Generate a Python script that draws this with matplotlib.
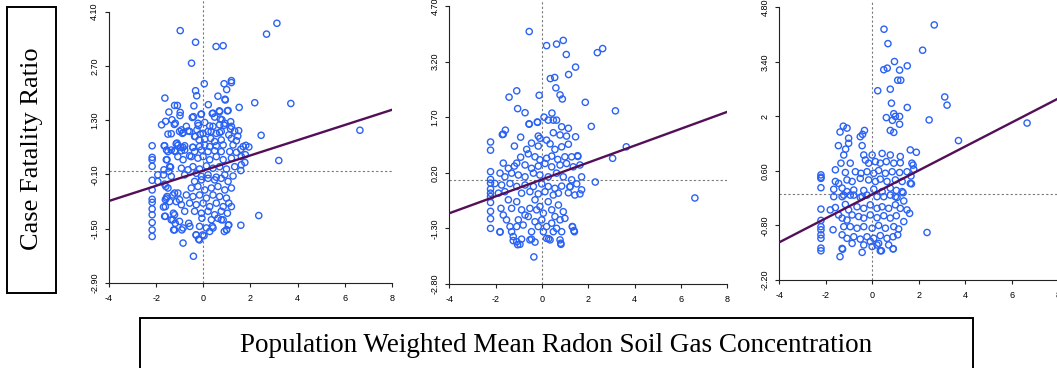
import numpy as np
import matplotlib.pyplot as plt
from matplotlib.patches import Rectangle

# puntos leídos a ojo de la figura (x, y) por panel
panel1_pts = [
    (-0.98, 3.61), (3.12, 3.80), (2.68, 3.52), (-0.33, 3.31), (0.54, 3.20), (0.84, 3.22), (-0.50, 2.77),
    (0.04, 2.24), (1.19, 2.32), (1.19, 2.27), (0.88, 2.24), (0.99, 2.09), (-0.33, 2.06), (-0.28, 1.93),
    (0.62, 1.92), (0.92, 1.84), (-1.63, 1.87), (2.18, 1.75), (3.71, 1.73), (0.21, 1.70), (-1.22, 1.68),
    (-1.10, 1.68), (-0.40, 1.67), (1.52, 1.63), (-1.46, 1.51), (-0.98, 1.50), (-0.99, 1.42), (-0.10, 1.45),
    (0.68, 1.54), (1.02, 1.54), (0.38, 1.47), (-0.42, 1.39), (0.72, 1.33), (1.16, 1.26), (-1.77, 1.18),
    (-1.60, 1.27), (-1.23, 1.19), (-1.33, 1.31), (0.06, 1.24), (-0.21, 1.16), (0.27, 1.15), (0.88, 1.17),
    (-0.65, 1.02), (-0.93, 1.05), (-0.85, 0.98), (-1.50, 0.94), (-1.36, 0.95), (-0.34, 0.88), (-0.13, 0.94),
    (0.33, 1.01), (0.69, 0.98), (1.15, 1.08), (2.45, 0.91), (6.64, 1.04), (1.46, 0.89), (1.33, 1.02),
    (-2.17, 0.64), (-1.66, 0.64), (-1.12, 0.71), (-1.08, 0.65), (-0.96, 0.60), (-0.86, 0.60), (-0.45, 0.60),
    (-1.56, 0.53), (-1.22, 0.51), (1.80, 0.65), (1.93, 0.61), (-2.17, 0.34), (-2.17, 0.28), (-2.17, 0.11),
    (-1.54, 0.28), (-1.39, 0.09), (-0.58, 0.38), (3.20, 0.26), (1.61, 0.36), (1.76, 0.21), (1.59, 0.0),
    (-2.17, -0.25), (-1.69, -0.11), (-1.46, -0.02), (-2.17, -0.50), (-2.17, -0.74), (-2.17, -0.82),
    (-2.17, -0.99), (-2.17, -1.14), (-2.17, -1.34), (-2.17, -1.53), (-2.17, -1.70), (-1.64, -0.35),
    (-1.59, -0.41), (-1.54, -0.67), (-1.61, -0.75), (-1.69, -0.94), (-1.64, -1.18), (-1.22, -0.58),
    (-1.15, -0.80), (-1.27, -1.10), (-1.36, -1.27), (-1.19, -1.36), (-1.26, -1.53), (-0.91, -1.53),
    (-0.86, -1.87), (-0.42, -2.21), (-0.31, -1.66), (-0.20, -1.77), (-0.57, -1.44), (-0.03, -1.66),
    (0.38, -1.44), (0.27, -1.57), (0.99, -1.53), (1.06, -1.41), (1.59, -1.41), (2.35, -1.16), (0.89, -1.57),
    (0.76, -1.27), (1.19, -0.93),
    (0.93, 1.82), (-0.47, 1.37), (-0.08, 1.46), (0.41, 1.48), (0.69, 1.52), (1.05, 1.55), (0.48, 1.38),
    (0.79, 1.31), (-1.19, 1.22), (-0.72, 1.14), (-0.23, 1.22), (0.41, 1.14), (0.69, 1.18), (0.91, 1.22),
    (1.19, 1.14), (-0.27, 1.05), (-1.01, 1.01), (-0.89, 0.96), (-0.58, 1.01), (-0.37, 0.88), (-0.01, 0.96),
    (0.20, 1.01), (0.55, 0.96), (0.76, 1.01), (1.08, 0.92), (1.50, 1.03), (-0.18, 0.79), (0.06, 0.81),
    (0.31, 0.83), (0.48, 0.75), (0.76, 0.79), (1.19, 0.83), (1.40, 0.77), (-1.64, 0.64), (-1.15, 0.69),
    (-0.79, 0.64), (-0.44, 0.60), (-0.16, 0.62), (0.06, 0.66), (0.27, 0.62), (0.55, 0.64), (0.84, 0.66),
    (1.26, 0.66), (1.69, 0.62), (-1.50, 0.49), (-1.36, 0.53), (-1.19, 0.49), (-0.93, 0.51), (-0.79, 0.53),
    (-0.37, 0.49), (-0.08, 0.53), (0.20, 0.49), (0.48, 0.51), (0.76, 0.49), (1.12, 0.49), (1.40, 0.47),
    (1.59, 0.55), (-1.57, 0.28), (-1.08, 0.36), (-0.86, 0.28), (-0.51, 0.36), (-0.23, 0.32), (-0.01, 0.36),
    (0.27, 0.28), (0.55, 0.36), (0.84, 0.28), (1.19, 0.32), (1.78, 0.41), (-1.43, 0.10), (-0.93, 0.06),
    (-0.65, 0.02), (-0.44, 0.10), (-0.16, 0.04), (0.13, 0.12), (0.41, 0.06), (0.69, 0.10), (0.98, 0.04),
    (1.33, 0.10), (1.61, 0.15), (-1.67, 0.02), (-1.93, -0.11), (-1.36, -0.15), (-0.79, -0.11), (-0.30, -0.07),
    (-0.08, -0.15), (0.20, -0.11), (0.55, -0.17), (0.91, -0.11), (1.26, -0.14),
    (-1.93, -0.28), (-1.50, -0.45), (-1.29, -0.63), (-1.08, -0.58), (-1.57, -0.71), (-1.43, -0.80),
    (-1.61, -0.93), (-1.01, -0.75), (-0.93, -0.88), (-0.79, -1.05), (-1.22, -1.14), (-1.29, -1.27),
    (-1.61, -1.18), (-1.01, -1.31), (-0.86, -1.48), (-1.22, -1.53), (-0.62, -1.36), (-0.37, -0.28),
    (-0.08, -0.24), (0.20, -0.20), (0.48, -0.24), (0.76, -0.20), (1.05, -0.28), (1.19, -0.45), (-0.51, -0.45),
    (-0.23, -0.41), (0.06, -0.50), (0.34, -0.45), (0.62, -0.41), (0.91, -0.50), (-0.72, -0.63), (-0.44, -0.67),
    (-0.16, -0.63), (0.13, -0.71), (0.41, -0.63), (0.69, -0.67), (0.98, -0.71), (-0.58, -0.84), (-0.30, -0.88),
    (-0.01, -0.84), (0.27, -0.93), (0.55, -0.84), (0.84, -0.93), (1.08, -0.84), (-0.37, -1.05), (-0.08, -1.10),
    (0.20, -1.05), (0.48, -1.14), (0.76, -1.05), (1.02, -1.10), (-0.06, -1.23), (0.34, -1.27), (0.62, -1.23),
    (0.84, -1.27), (1.08, -1.40), (0.98, -1.53), (-0.16, -1.44), (0.13, -1.48), (0.41, -1.48), (-0.30, -1.66),
    (-0.16, -1.79), (0.03, -1.68),
]

panel2_pts = [
    (-0.55, 4.01), (0.20, 3.63), (0.63, 3.67), (0.92, 3.77), (1.05, 3.39), (1.45, 3.05), (2.39, 3.44),
    (2.62, 3.55), (1.15, 2.85), (0.36, 2.74), (0.55, 2.77), (0.60, 2.49), (0.78, 2.30), (0.88, 2.19),
    (-0.12, 2.29), (-1.09, 2.41), (-1.42, 2.24), (1.87, 2.10), (3.17, 1.87), (-1.05, 1.93), (-0.73, 1.82),
    (0.09, 1.70), (0.43, 1.81), (0.27, 1.62), (0.49, 1.62), (-0.55, 1.51), (-0.20, 1.57), (2.13, 1.45),
    (-1.58, 1.35), (-1.71, 1.23), (-0.92, 1.16), (-1.19, 0.92), (-2.22, 1.03), (-2.22, 0.81), (1.45, 1.17),
    (3.64, 0.90), (3.05, 0.59), (1.55, 0.64), (2.30, -0.05), (6.60, -0.48), (-2.22, 0.23), (-2.22, 0.02),
    (-2.22, -0.08), (-2.22, -0.24), (-2.22, -0.35), (-2.22, -0.44), (-2.22, -0.60), (-2.22, -0.84),
    (-2.22, -1.04), (-2.22, -1.30), (-1.81, -1.40), (-1.24, -1.63), (-1.05, -1.74), (-0.52, -1.61),
    (-0.30, -1.67), (0.29, -1.58), (0.78, -1.61), (0.81, -1.70), (-0.35, -2.07), (1.32, -1.26), (1.38, -1.36),
    (1.64, -0.37), (1.21, -0.18),
    (0.63, 1.62), (-0.56, 1.52), (-0.19, 1.56), (0.85, 1.44), (1.14, 1.40), (-1.67, 1.24), (-0.16, 1.19),
    (-0.09, 1.13), (0.20, 1.08), (0.49, 1.28), (0.78, 1.22), (1.06, 1.19), (-0.66, 0.83), (-0.59, 0.71),
    (-0.45, 1.00), (-0.16, 0.92), (0.35, 0.98), (0.56, 0.83), (0.85, 0.90), (1.14, 0.97), (-0.92, 0.62),
    (-1.09, 0.46), (-1.19, 0.38), (-0.30, 0.63), (-0.09, 0.55), (0.20, 0.59), (0.42, 0.65), (0.68, 0.56),
    (0.99, 0.63), (1.28, 0.63), (1.54, 0.66), (-1.67, 0.46), (-1.45, 0.32), (-0.73, 0.41), (-0.45, 0.32),
    (-0.16, 0.38), (0.13, 0.45), (0.42, 0.36), (0.78, 0.41), (1.06, 0.45), (1.35, 0.36), (1.64, 0.41),
    (-1.81, 0.19), (-1.60, 0.09), (-1.31, 0.19), (-1.02, 0.14), (-0.73, 0.09), (-0.37, 0.19), (-0.09, 0.14),
    (0.27, 0.09), (0.63, 0.19), (0.92, 0.09), (1.28, 0.01), (1.71, 0.09), (-2.03, -0.09), (-1.74, -0.13),
    (-1.38, -0.09), (-1.09, -0.17), (-0.73, -0.13), (-0.37, -0.17), (-0.01, -0.10), (0.27, -0.17),
    (0.56, -0.22), (0.85, -0.16), (1.21, -0.17), (1.50, -0.10), (1.71, -0.26), (-1.88, -0.35), (-1.60, -0.31),
    (-0.88, -0.35), (-0.52, -0.31), (-0.16, -0.37), (0.13, -0.31), (0.49, -0.40), (0.71, -0.35), (1.14, -0.34),
    (1.42, -0.40),
    (-1.77, -0.76), (-1.67, -0.94), (-1.53, -1.07), (-1.38, -1.25), (-1.81, -1.39), (-1.45, -0.53),
    (-1.31, -0.76), (-1.09, -0.58), (-0.88, -0.80), (-0.73, -0.94), (-0.52, -0.76), (-1.02, -1.07),
    (-1.09, -1.25), (-1.24, -1.52), (-1.09, -1.66), (-0.95, -1.73), (-0.88, -1.59), (-1.31, -1.39),
    (-0.45, -1.39), (-0.45, -1.59), (-0.30, -1.12), (-0.16, -1.25), (-0.30, -0.53), (-0.09, -0.71),
    (0.06, -0.89), (0.27, -0.58), (0.42, -0.80), (0.56, -0.98), (0.71, -0.67), (0.92, -0.85), (0.99, -1.03),
    (-0.01, -1.07), (0.20, -1.25), (0.42, -1.16), (0.63, -1.30), (0.78, -1.07), (0.20, -1.57), (0.35, -1.61),
    (0.82, -1.73), (1.31, -1.25), (1.40, -1.39), (-0.23, -0.80), (-0.59, -0.98), (-0.81, -1.21), (0.49, -1.39),
    (0.85, -1.39), (0.06, -1.39),
]

panel3_pts = [
    (0.50, 4.24), (2.66, 4.35), (0.67, 3.87), (2.16, 3.70), (0.95, 3.41), (1.50, 3.30), (0.49, 3.20),
    (0.64, 3.24), (1.17, 3.19), (1.09, 2.93), (1.22, 2.93), (0.23, 2.66), (0.77, 2.70), (3.11, 2.50),
    (3.21, 2.29), (0.82, 2.34), (1.50, 2.23), (0.60, 1.97), (0.92, 2.07), (0.99, 2.00), (0.86, 1.90),
    (1.17, 2.00), (1.17, 1.80), (2.44, 1.91), (6.65, 1.83), (0.77, 1.64), (0.92, 1.59), (-1.25, 1.75),
    (-1.09, 1.70), (-1.39, 1.60), (-0.34, 1.64), (-0.42, 1.54), (-1.02, 1.44), (-1.02, 1.31), (-1.46, 1.25),
    (-1.15, 1.16), (-0.44, 1.25), (3.70, 1.38), (1.63, 1.14), (1.89, 1.08), (-1.23, 1.01), (-2.21, 0.50),
    (-2.21, 0.44), (-2.21, 0.17), (-2.21, -0.38), (-2.21, -0.67), (-2.21, -0.83), (-2.21, -0.91),
    (-2.21, -1.04), (-2.21, -1.13), (-2.21, -1.38), (-2.21, -1.45), (-1.39, -1.60), (-1.28, -1.41),
    (-0.44, -1.49), (0.39, -1.45), (0.90, -1.40), (2.35, -0.98), (1.68, 0.27), (1.66, 0.47), (1.75, 0.75),
    (1.78, 0.64), (1.32, 0.04),
    (-0.52, 1.48), (-1.35, 0.80), (-0.95, 0.80), (-0.37, 1.01), (-0.01, 1.01), (0.42, 1.05), (0.77, 1.01),
    (1.20, 0.97), (-0.30, 0.88), (-0.16, 0.80), (0.13, 0.84), (0.34, 0.80), (0.60, 0.84), (0.92, 0.80),
    (1.20, 0.81), (1.70, 0.80), (-1.59, 0.63), (-1.16, 0.56), (-0.73, 0.58), (-0.49, 0.54), (-0.23, 0.58),
    (0.06, 0.54), (0.27, 0.61), (0.56, 0.54), (0.85, 0.58), (1.17, 0.56), (1.49, 0.58), (-2.21, 0.41),
    (-1.59, 0.33), (-1.45, 0.28), (-1.09, 0.37), (-0.87, 0.33), (-0.52, 0.41), (-0.16, 0.37), (0.13, 0.33),
    (0.34, 0.39), (0.63, 0.33), (0.99, 0.37), (1.28, 0.33), (1.63, 0.28), (-1.66, 0.13), (-1.30, 0.16),
    (-1.09, 0.07), (-0.80, 0.11), (-0.37, 0.10), (0.06, 0.13), (0.42, 0.07), (0.77, 0.16), (1.03, 0.10),
    (1.28, 0.07), (-0.80, -0.02), (-0.44, -0.06), (-0.23, -0.02), (0.77, -0.02), (0.99, -0.06), (-0.95, -0.02),
    (-1.23, -0.02),
    (-1.66, -0.06), (-1.30, -0.06), (-0.52, -0.08), (0.20, -0.06), (0.49, -0.06), (1.06, -0.08),
    (1.35, -0.17), (-1.81, -0.40), (-1.59, -0.34), (-1.16, -0.26), (-1.02, -0.40), (-0.66, -0.32),
    (-0.37, -0.36), (-0.09, -0.27), (0.20, -0.36), (0.42, -0.32), (0.70, -0.36), (0.99, -0.27), (1.20, -0.36),
    (1.49, -0.40), (1.60, -0.49), (-1.45, -0.53), (-1.30, -0.61), (-1.09, -0.66), (-0.87, -0.53),
    (-0.59, -0.57), (-0.37, -0.61), (-0.09, -0.53), (0.20, -0.60), (0.49, -0.55), (0.77, -0.61), (1.03, -0.55),
    (1.35, -0.70), (-1.69, -0.91), (-1.23, -0.83), (-0.95, -0.83), (-0.66, -0.87), (-0.37, -0.83),
    (-0.01, -0.87), (0.27, -0.80), (0.56, -0.87), (0.92, -0.83), (1.13, -0.89), (-1.30, -1.04), (-1.09, -1.13),
    (-0.80, -1.09), (-0.52, -1.15), (-0.23, -1.09), (0.06, -1.13), (0.34, -1.06), (0.63, -1.13), (0.89, -1.09),
    (1.09, -1.04), (-0.87, -1.26), (-0.37, -1.30), (-0.09, -1.21), (0.27, -1.26), (0.70, -1.30), (0.89, -1.40),
    (-1.30, -1.39), (0.34, -1.45), (0.20, -1.30), (-0.01, -1.34),
]

# recta de ajuste de cada panel
fit_intercept = [0.00, 0.02, 0.00]
fit_slope = [0.196, 0.228, 0.308]

ytick_vals = [
    [-2.90, -1.50, -0.10, 1.30, 2.70, 4.10],
    [-2.80, -1.30, 0.20, 1.70, 3.20, 4.70],
    [-2.20, -0.80, 0.60, 2.00, 3.40, 4.80],
]
ytick_labels = [
    ["-2.90", "-1.50", "-0.10", "1.30", "2.70", "4.10"],
    ["-2.80", "-1.30", "0.20", "1.70", "3.20", "4.70"],
    ["-2.20", "-0.80", "0.60", "2", "3.40", "4.80"],
]
xtick_vals = [-4, -2, 0, 2, 4, 6, 8]
ytops = [4.40, 4.86, 4.99]

W, H = 1057, 368
rects = [
    [109 / W, 85 / H, 283 / W, 283 / H],
    [449.3 / W, 84 / H, 278 / W, 284 / H],
    [779.3 / W, 88 / H, 279.2 / W, 280 / H],
]

fig = plt.figure(figsize=(W / 100, H / 100), dpi=100)

for i, pts in enumerate([panel1_pts, panel2_pts, panel3_pts]):
    ax = fig.add_axes(rects[i])
    xs, ys = np.array(pts).T
    yt = ytick_vals[i]
    ax.set_xlim(-4, 8)
    ax.set_ylim(yt[0], ytops[i])
    ax.axvline(0, color='#7a7a7a', lw=0.8, ls=(0, (2, 2)), zorder=1)
    ax.axhline(0, color='#7a7a7a', lw=0.8, ls=(0, (2, 2)), zorder=1)
    ax.scatter(xs, ys, s=20, facecolors='none', edgecolors='#2a62f5', linewidths=1.0, zorder=2)
    ax.axline((0, fit_intercept[i]), slope=fit_slope[i], color='#530f57', lw=1.7, zorder=3)

    for s in ['top', 'right']:
        ax.spines[s].set_visible(False)
    ax.spines['left'].set_bounds(yt[0], yt[-1])
    ax.spines['bottom'].set_bounds(-4, 8)
    for s in ['left', 'bottom']:
        ax.spines[s].set_linewidth(0.8)
        ax.spines[s].set_color('#222222')

    ax.set_xticks(xtick_vals)
    ax.set_xticklabels([str(v) for v in xtick_vals], family='Liberation Sans', fontsize=6.5)
    ax.set_yticks(yt)
    ax.set_yticklabels(ytick_labels[i], family='Liberation Sans', fontsize=6.5,
                       rotation=90, va='center')
    ax.tick_params(direction='out', length=3, width=0.8, color='#222222', pad=4)
    ax.tick_params(axis='x', pad=5)
    ax.set_facecolor('none')

# recuadros de los títulos de ejes
fig.add_artist(Rectangle((7 / W, 75 / H), 49 / W, 286 / H, transform=fig.transFigure,
                         fill=False, lw=1.4, edgecolor='black'))
fig.text(32 / W, 1 - 149 / H, "Case Fatality Ratio", rotation=90, family='Liberation Serif',
         fontsize=19, ha='center', va='center')

fig.add_artist(Rectangle((139.5 / W, -10 / H), 833.5 / W, 60 / H, transform=fig.transFigure,
                         fill=False, lw=1.4, edgecolor='black'))
fig.text(556 / W, 1 - 346 / H, "Population Weighted Mean Radon Soil Gas Concentration",
         family='Liberation Serif', fontsize=19.5, ha='center', va='center')

plt.savefig("out.png", dpi=100)
